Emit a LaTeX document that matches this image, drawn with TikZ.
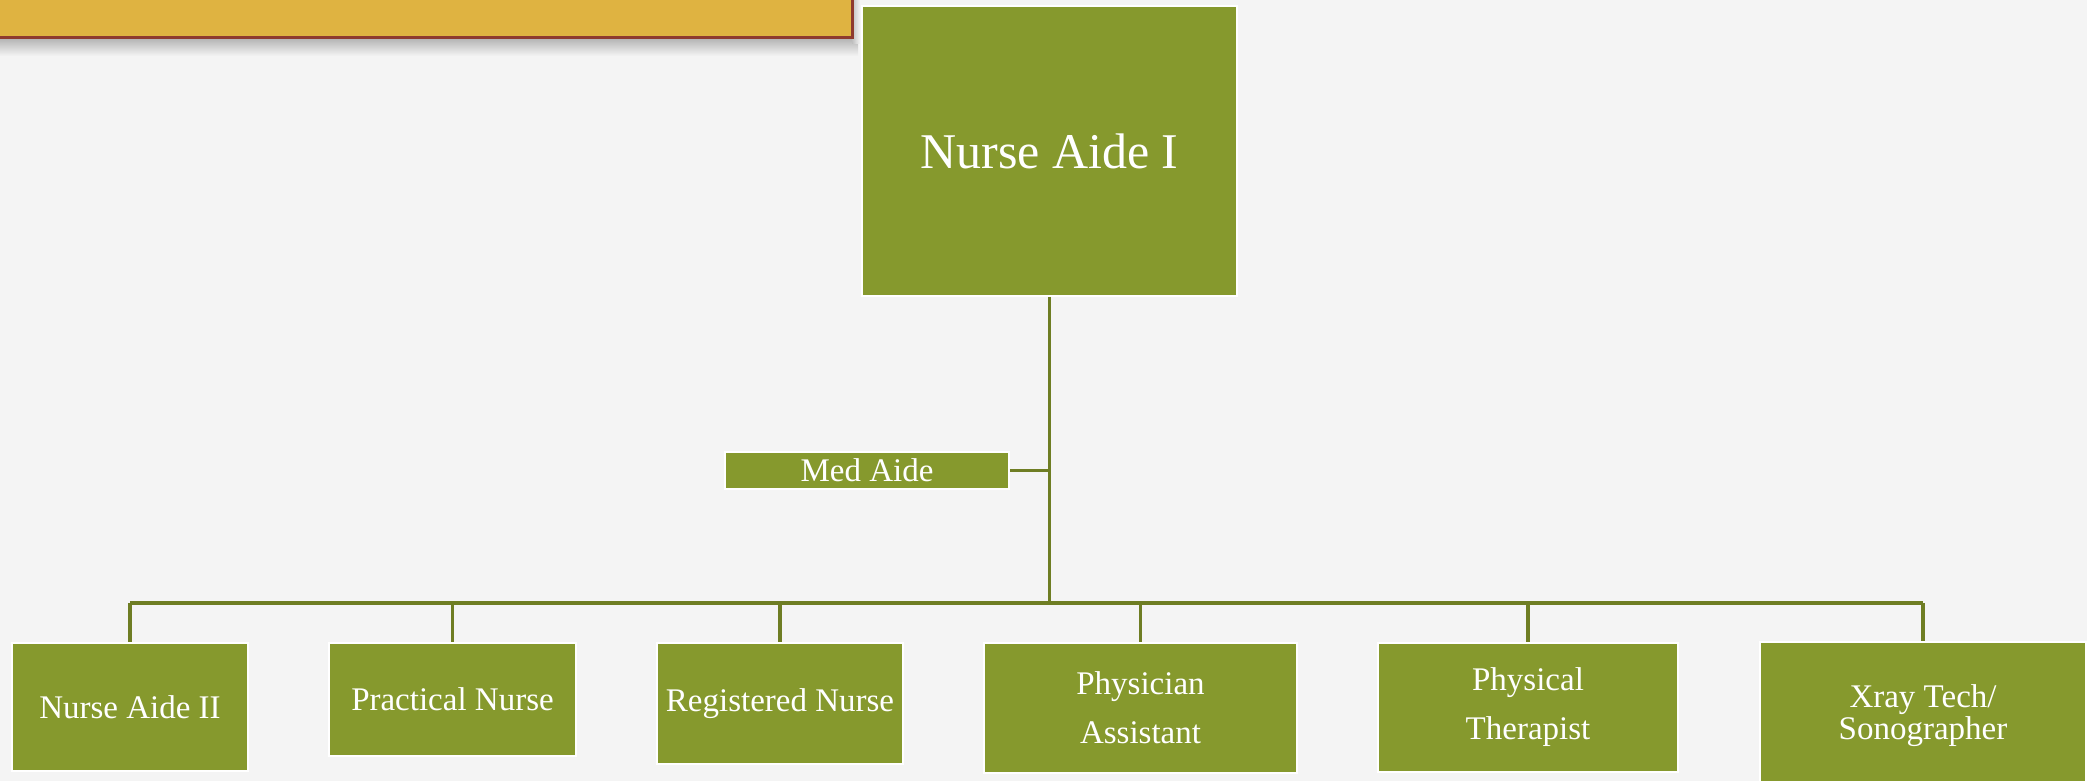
\documentclass[tikz,border=0pt]{standalone}
\usepackage{fontspec}
\setmainfont{Liberation Serif}
\definecolor{bg}{HTML}{F4F4F4}
\definecolor{olive}{HTML}{86992D}
\definecolor{oline}{HTML}{6E7D23}
\definecolor{gold}{HTML}{DFB341}
\definecolor{brick}{HTML}{8E3A2E}
\begin{document}
\begin{tikzpicture}[x=0.5pt,y=-0.5pt,
  box/.style={fill=olive, draw=white, line width=0.8pt, text=white, inner sep=0pt, align=center},
  conn/.style={draw=oline, line width=1.8pt},
  lbl/.style={font=\fontsize{16.5}{24.5}\selectfont}]
\useasboundingbox (0,0) rectangle (2087,781);
\clip (0,0) rectangle (2087,781);
\fill[bg] (0,0) rectangle (2087,781);
% banner with shadow
\shade[top color=black!30, bottom color=bg] (0,38) rectangle (858,56);
\shade[left color=black!25, right color=bg] (852,0) rectangle (860,44);
\fill[gold] (-5,-5) rectangle (851,37);
\draw[brick, line width=1.5pt] (-5,37.5) -- (852,37.5) -- (852,-5);
% nodes
\node[box, minimum width=187.5pt, minimum height=145pt, font=\fontsize{25}{30}\selectfont] (top) at (1049.5,151) {Nurse Aide I};
\node[box, lbl, minimum width=142pt, minimum height=18.5pt] (med) at (867,470.5) {Med Aide};
\node[box, lbl, minimum width=118pt, minimum height=64pt] (na2) at (130,707) {Nurse Aide II};
\node[box, lbl, minimum width=123.5pt, minimum height=56.5pt] (pn) at (452.5,699.5) {Practical Nurse};
\node[box, lbl, minimum width=123pt, minimum height=60.5pt] (rn) at (780,703.5) {Registered Nurse};
\node[box, lbl, minimum width=156.5pt, minimum height=65pt] (pa) at (1140.5,708) {Physician\\Assistant};
\node[box, lbl, minimum width=150pt, minimum height=64.5pt] (pt) at (1528,707.5) {Physical\\Therapist};
\node[box, font=\fontsize{16.5}{16}\selectfont, minimum width=163pt, minimum height=74pt] (xr) at (1923,716) {Xray Tech/\\Sonographer};
% connectors
\coordinate (bus) at (1050,603);
\draw[conn] (top.south) -- (top.south |- bus);
\draw[conn] (med.east) -- (med.east -| top.south);
\draw[conn] (na2.north |- bus) -- (xr.north |- bus);
\foreach \n in {na2,pn,rn,pa,pt,xr}
  \draw[conn] (\n.north |- bus) -- (\n.north);
\end{tikzpicture}
\end{document}
